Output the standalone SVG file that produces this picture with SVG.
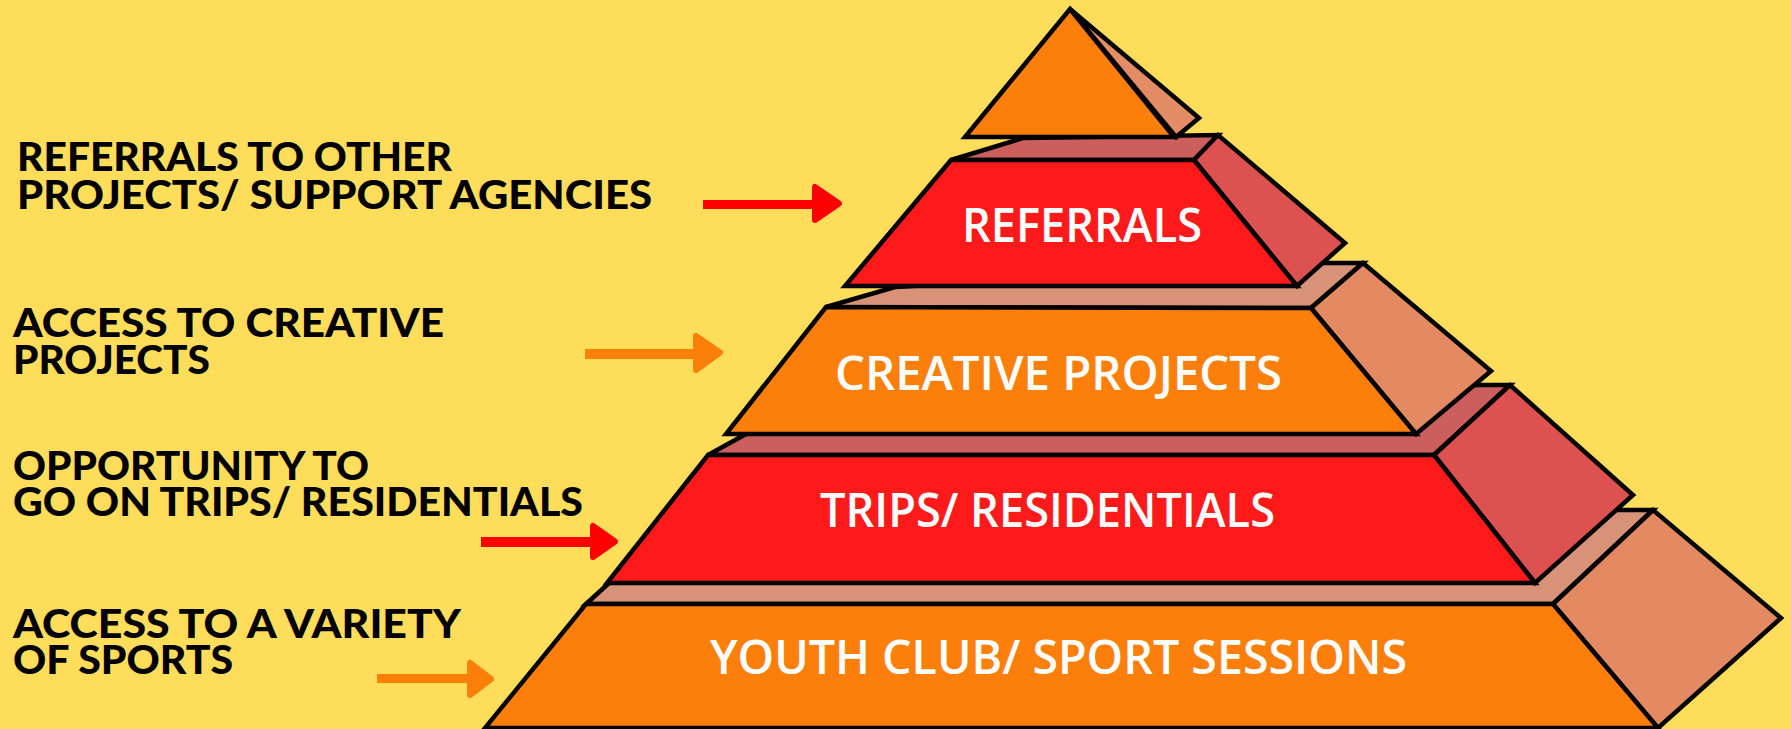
<svg xmlns="http://www.w3.org/2000/svg" width="1791" height="729" viewBox="0 0 1791 729">
<style>
.e{stroke:#000;stroke-width:4.5;stroke-linejoin:miter}
.of{fill:#FD7F0B}
.rf{fill:#FE1A1A}
.rt{fill:#CC5F5E}
.rs{fill:#DD5151}
.ot{fill:#D79278}
.os{fill:#E38A63}
.tl{font-family:"Open Sans","Liberation Sans",sans-serif;font-weight:600;font-size:47px;fill:#fff}
.ll{font-family:Lato,"Liberation Sans",sans-serif;font-weight:900;font-size:36px;fill:#000}
.ar{stroke:#FE0000;fill:#FE0000}
.ao{stroke:#FC7F0A;fill:#FC7F0A}
.hd{stroke-width:6;stroke-linejoin:round}
</style>
<rect width="1791" height="729" fill="#FEDD5A"/>

<g id="tier-youth">
<polygon class="e ot" points="586,604 609,583 1618,510 1653,510 1553,604"/>
<polygon class="e os" points="1553,604 1653,510 1781,618 1658,728"/>
<polygon class="e of" points="586,604 1553,604 1658,728 485,728"/>
<text class="tl" x="710" y="674" textLength="697" lengthAdjust="spacingAndGlyphs">YOUTH CLUB/ SPORT SESSIONS</text>
</g>

<g id="tier-trips">
<polygon class="e rt" points="708,455 746,434 1478,385 1510,385 1434,455"/>
<polygon class="e rs" points="1434,455 1510,385 1633,495 1535,583"/>
<polygon class="e rf" points="708,455 1434,455 1535,583 607,583"/>
<text class="tl" x="820" y="527" textLength="455" lengthAdjust="spacingAndGlyphs">TRIPS/ RESIDENTIALS</text>
</g>

<g id="tier-creative">
<polygon class="e ot" points="826,307 895,287 1322,263 1363,263 1311,308"/>
<polygon class="e os" points="1311,308 1363,263 1491,371 1416,434"/>
<polygon class="e of" points="826,307 1311,308 1416,434 726,434"/>
<text class="tl" x="835" y="390" textLength="447" lengthAdjust="spacingAndGlyphs">CREATIVE PROJECTS</text>
</g>

<g id="tier-referrals">
<polygon class="e rt" points="951,160 1023,138 1218,135 1194,160"/>
<polygon class="e rs" points="1194,160 1218,135 1345,243 1297,286"/>
<polygon class="e rf" points="951,160 1194,160 1297,286 845,286"/>
<text class="tl" x="962" y="242" textLength="240" lengthAdjust="spacingAndGlyphs">REFERRALS</text>
</g>

<g id="tier-top">
<polygon class="e" fill="#E38C66" points="1070,9 1199,118 1176,137"/>
<polygon class="e of" points="1070,9 1174,137 965,137"/>
</g>

<g id="label-referrals">
<text class="ll" x="17" y="171" textLength="435" lengthAdjust="spacingAndGlyphs" transform="translate(0,171) scale(1,1.1) translate(0,-171)">REFERRALS TO OTHER</text>
<text class="ll" x="17" y="209" textLength="635" lengthAdjust="spacingAndGlyphs" transform="translate(0,209) scale(1,1.1) translate(0,-209)">PROJECTS/ SUPPORT AGENCIES</text>
</g>
<g id="label-creative">
<text class="ll" x="13" y="337" textLength="431" lengthAdjust="spacingAndGlyphs" transform="translate(0,337) scale(1,1.1) translate(0,-337)">ACCESS TO CREATIVE</text>
<text class="ll" x="13" y="374" textLength="197" lengthAdjust="spacingAndGlyphs" transform="translate(0,374) scale(1,1.1) translate(0,-374)">PROJECTS</text>
</g>
<g id="label-trips">
<text class="ll" x="13" y="480" textLength="356" lengthAdjust="spacingAndGlyphs" transform="translate(0,480) scale(1,1.1) translate(0,-480)">OPPORTUNITY TO</text>
<text class="ll" x="13" y="516" textLength="570" lengthAdjust="spacingAndGlyphs" transform="translate(0,516) scale(1,1.1) translate(0,-516)">GO ON TRIPS/ RESIDENTIALS</text>
</g>
<g id="label-sports">
<text class="ll" x="13" y="638" textLength="448" lengthAdjust="spacingAndGlyphs" transform="translate(0,638) scale(1,1.1) translate(0,-638)">ACCESS TO A VARIETY</text>
<text class="ll" x="13" y="674" textLength="220" lengthAdjust="spacingAndGlyphs" transform="translate(0,674) scale(1,1.1) translate(0,-674)">OF SPORTS</text>
</g>

<g id="connectors">
<g class="ar">
<rect x="703" y="200" width="112" height="9" stroke="none"/>
<polygon class="hd" points="815,187 815,220 839,203.5"/>
</g>
<g class="ao">
<rect x="585" y="349" width="111" height="10" stroke="none"/>
<polygon class="hd" points="696,336 696,370 720,352.5"/>
</g>
<g class="ar">
<rect x="481" y="537" width="112" height="10" stroke="none"/>
<polygon class="hd" points="593,526 593,557 615,541.5"/>
</g>
<g class="ao">
<rect x="377" y="674" width="93" height="9" stroke="none"/>
<polygon class="hd" points="470,663 470,695 491,679"/>
</g>
</g>
</svg>
